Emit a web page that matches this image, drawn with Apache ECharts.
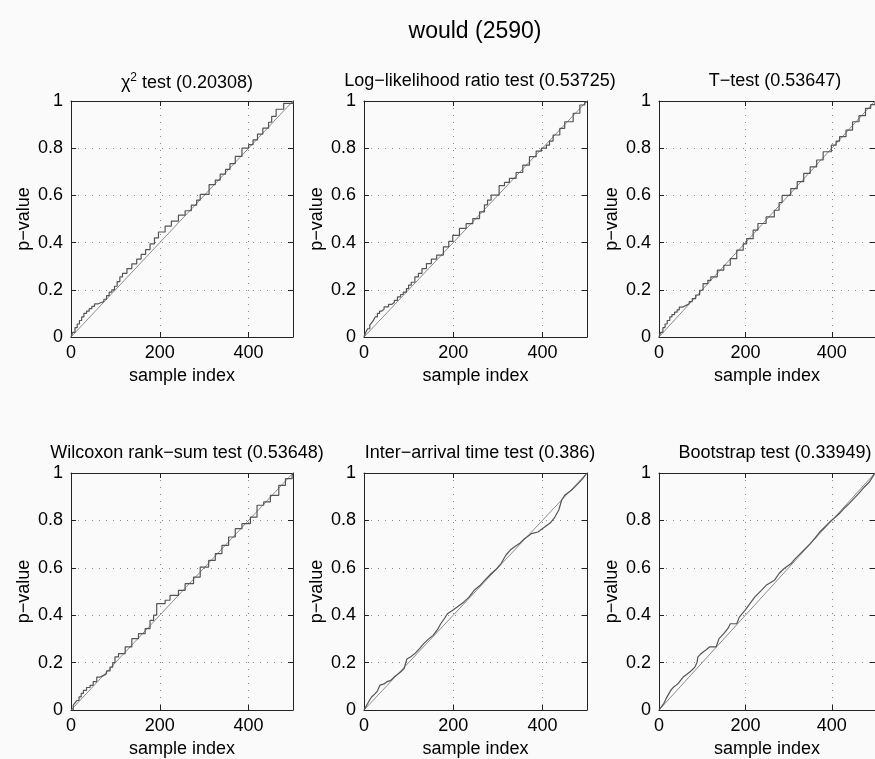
<!DOCTYPE html>
<html>
<head>
<meta charset="utf-8">
<script src="https://cdn.jsdelivr.net/npm/echarts@6/dist/echarts.min.js"></script>
<style>
html,body{margin:0;padding:0;background:#fafafa;}
#c{width:875px;height:759px;}
</style>
</head>
<body>
<div id="c"></div>
<script>
const mainTitle = 'would (2590)';
const panelTitles = [
  '{n|χ}{s|2}{n| test (0.20308)}',
  'Log−likelihood ratio test (0.53725)',
  'T−test (0.53647)',
  'Wilcoxon rank−sum test (0.53648)',
  'Inter−arrival time test (0.386)',
  'Bootstrap test (0.33949)'
];
const xLabelName = 'sample index';
const yLabelName = 'p−value';
const diagonal = [[0, 0], [500, 1]];

// sorted p-values: [sample index, p-value]
const chi2Values = [[0,0],[4,0.02],[9,0.04],[14,0.055],[19,0.07],[24,0.085],[29,0.1],[35,0.11],[41,0.12],[47,0.13],[53,0.14],[60,0.145],[67,0.15],[74,0.16],[80,0.175],[86,0.19],[92,0.2],[98,0.215],[104,0.235],[110,0.255],[116,0.27],[126,0.29],[137,0.31],[148,0.33],[158,0.35],[168,0.37],[178,0.395],[188,0.42],[197,0.445],[212,0.47],[226,0.491],[242,0.516],[257,0.535],[271,0.559],[283,0.58],[291,0.604],[311,0.646],[325,0.665],[336,0.69],[348,0.71],[358,0.735],[370,0.765],[385,0.8],[400,0.815],[410,0.835],[420,0.86],[432,0.885],[445,0.91],[452,0.935],[462,0.965],[479,0.99],[500,1]];
const llrValues = [[0,0],[4,0.02],[8,0.035],[13,0.05],[17,0.06],[21,0.07],[25,0.085],[30,0.1],[35,0.11],[40,0.118],[45,0.128],[55,0.138],[62,0.146],[68,0.155],[75,0.17],[82,0.18],[88,0.19],[95,0.205],[100,0.22],[106,0.232],[114,0.255],[122,0.27],[130,0.29],[140,0.311],[151,0.33],[163,0.347],[178,0.382],[190,0.405],[199,0.431],[214,0.46],[229,0.48],[244,0.502],[259,0.53],[270,0.56],[277,0.58],[285,0.601],[303,0.641],[315,0.655],[326,0.672],[341,0.697],[356,0.728],[371,0.764],[386,0.788],[398,0.8],[409,0.813],[416,0.83],[424,0.856],[439,0.884],[450,0.912],[469,0.948],[484,0.983],[495,0.995],[500,1]];
const tValues = [[0,0],[4,0.02],[9,0.04],[14,0.055],[19,0.07],[25,0.085],[30,0.095],[36,0.105],[42,0.115],[47,0.127],[55,0.135],[64,0.141],[70,0.15],[77,0.163],[85,0.178],[94,0.198],[102,0.226],[113,0.24],[120,0.255],[135,0.283],[150,0.304],[165,0.332],[180,0.368],[195,0.395],[203,0.417],[218,0.453],[229,0.481],[248,0.509],[267,0.537],[278,0.57],[285,0.6],[305,0.629],[320,0.658],[335,0.693],[350,0.721],[365,0.75],[380,0.785],[399,0.813],[410,0.83],[418,0.849],[433,0.877],[448,0.912],[463,0.938],[478,0.969],[490,0.985],[500,1]];
const wilcoxonValues = [[0,0],[5,0.02],[9,0.03],[13,0.04],[18,0.055],[23,0.07],[28,0.083],[35,0.095],[43,0.104],[50,0.12],[58,0.139],[65,0.145],[73,0.153],[80,0.165],[88,0.181],[94,0.2],[99,0.224],[107,0.238],[122,0.266],[137,0.301],[152,0.322],[167,0.343],[178,0.378],[186,0.4],[193,0.449],[212,0.463],[223,0.484],[242,0.505],[257,0.533],[276,0.561],[291,0.603],[310,0.631],[325,0.66],[340,0.695],[355,0.73],[370,0.765],[385,0.786],[404,0.814],[419,0.864],[434,0.878],[449,0.906],[468,0.948],[483,0.976],[498,0.99],[500,1]];
const interArrivalValues = [[0,0],[6,0.02],[12,0.04],[17,0.055],[25,0.069],[30,0.08],[36,0.105],[45,0.11],[52,0.12],[60,0.125],[68,0.14],[75,0.15],[82,0.16],[90,0.175],[96,0.215],[105,0.225],[115,0.24],[125,0.26],[134,0.28],[145,0.3],[155,0.315],[165,0.34],[172,0.364],[180,0.385],[187,0.406],[198,0.42],[209,0.435],[224,0.456],[235,0.475],[247,0.505],[260,0.525],[272,0.55],[285,0.575],[297,0.595],[307,0.617],[318,0.653],[328,0.675],[337,0.688],[350,0.705],[360,0.723],[375,0.744],[390,0.751],[405,0.772],[418,0.79],[428,0.814],[437,0.845],[443,0.885],[450,0.906],[465,0.927],[480,0.955],[490,0.975],[500,1]];
const bootstrapValues = [[0,0],[5,0.012],[11,0.027],[17,0.05],[23,0.069],[28,0.085],[34,0.097],[40,0.105],[45,0.113],[50,0.125],[56,0.139],[64,0.15],[71,0.16],[77,0.17],[83,0.181],[88,0.2],[90,0.224],[96,0.235],[102,0.245],[110,0.255],[117,0.266],[132,0.266],[139,0.301],[150,0.322],[160,0.345],[165,0.364],[180,0.364],[186,0.392],[199,0.42],[210,0.448],[222,0.477],[237,0.505],[248,0.526],[267,0.547],[278,0.576],[289,0.596],[305,0.617],[316,0.64],[327,0.66],[338,0.68],[350,0.702],[361,0.725],[372,0.751],[384,0.772],[395,0.793],[406,0.81],[417,0.828],[428,0.85],[440,0.871],[451,0.892],[462,0.913],[475,0.94],[487,0.962],[500,1]];

const panelSeries = [chi2Values, llrValues, tValues, wilcoxonValues, interArrivalValues, bootstrapValues];
const panelStep = [true, true, true, true, false, false];

const FONT = '"Liberation Sans", Arial, Helvetica, sans-serif';
const colLeft = [71, 364, 659];
const rowTop = [101, 473];
const plotW = 222, plotH = 236;

const grids = [], xAxes = [], yAxes = [], series = [], titles = [];
titles.push({
  text: mainTitle, left: 470, top: 15, textAlign: 'center',
  textStyle: {fontFamily: FONT, fontSize: 23, fontWeight: 'normal', color: '#000'}
});
const frame = {show: true, onZero: false, lineStyle: {color: '#222', width: 1}};
const ticksIn = {show: true, inside: true, length: 5, lineStyle: {color: '#222'}};
const dotted = {show: true, showMinLine: false, showMaxLine: false, lineStyle: {color: '#888', width: 1, type: [1, 6]}};
const lbl = {fontFamily: FONT, fontSize: 18, color: '#000'};

for (let i = 0; i < 6; i++) {
  const r = Math.floor(i / 3), c = i % 3;
  grids.push({left: colLeft[c], top: rowTop[r], width: plotW + (c === 1 ? 1 : 0), height: plotH + r, containLabel: false});
  titles.push({
    text: panelTitles[i], left: colLeft[c] + plotW / 2, top: rowTop[r] - 34, textAlign: 'center',
    textStyle: {fontFamily: FONT, fontSize: 18, fontWeight: 'normal', color: '#000',
      rich: {n: {fontFamily: FONT, fontSize: 18, color: '#000', lineHeight: 22},
             s: {fontFamily: FONT, fontSize: 12, color: '#000', lineHeight: 12, verticalAlign: 'top'}}}
  });
  xAxes.push({
    type: 'value', gridIndex: i, min: 0, max: 500, interval: 200, position: 'bottom',
    axisLine: frame, axisTick: ticksIn,
    axisLabel: Object.assign({margin: 7, showMaxLabel: false}, lbl),
    splitLine: dotted,
    name: xLabelName, nameLocation: 'middle', nameGap: 30, nameTextStyle: lbl
  });
  xAxes.push({
    type: 'value', gridIndex: i, min: 0, max: 500, interval: 200, position: 'top',
    axisLine: frame, axisTick: ticksIn, axisLabel: {show: false}, splitLine: {show: false}
  });
  yAxes.push({
    type: 'value', gridIndex: i, min: 0, max: 1, interval: 0.2, position: 'left',
    axisLine: frame, axisTick: ticksIn,
    axisLabel: Object.assign({margin: 8}, lbl),
    splitLine: dotted,
    name: yLabelName, nameLocation: 'middle', nameGap: 38, nameTextStyle: lbl
  });
  yAxes.push({
    type: 'value', gridIndex: i, min: 0, max: 1, interval: 0.2, position: 'right',
    axisLine: frame, axisTick: ticksIn, axisLabel: {show: false}, splitLine: {show: false}
  });
  series.push({
    type: 'line', xAxisIndex: 2 * i, yAxisIndex: 2 * i, data: diagonal,
    showSymbol: false, silent: true, lineStyle: {color: '#8c8c8c', width: 1}, z: 2
  });
  series.push({
    type: 'line', xAxisIndex: 2 * i, yAxisIndex: 2 * i, data: panelSeries[i],
    step: panelStep[i] ? 'end' : false,
    showSymbol: false, silent: true, lineStyle: {color: '#555', width: 1.2}, z: 3
  });
}

const chart = echarts.init(document.getElementById('c'), null, {renderer: 'canvas'});
chart.setOption({
  backgroundColor: '#fafafa',
  animation: false,
  title: titles,
  grid: grids,
  xAxis: xAxes,
  yAxis: yAxes,
  series: series
});
</script>
</body>
</html>
